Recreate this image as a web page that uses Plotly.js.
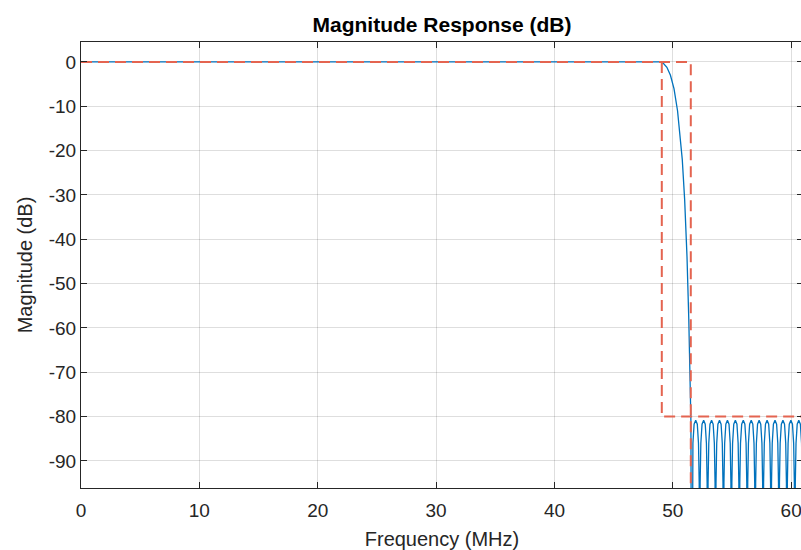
<!DOCTYPE html>
<html>
<head>
<meta charset="utf-8">
<script src="https://cdn.plot.ly/plotly-3.0.1.min.js"></script>
<style>
  html, body { margin: 0; padding: 0; overflow: hidden; background: #fff; }
  #chart { width: 840px; height: 550px; }
</style>
</head>
<body>
<div id="chart"></div>
<script>
// Passband + transition band (frequency in MHz, magnitude in dB)
var passFreq = [0, 10, 20, 30, 40, 48.9, 49.2, 49.5, 49.8, 50.1, 50.4, 50.6, 50.8, 51.0, 51.2, 51.35, 51.45, 51.53];
var passMag  = [0, 0, 0, 0, 0, 0, -0.3, -1.2, -3, -6, -11, -16, -22, -31, -44, -58, -70, -81];

// Stopband equiripple lobes (nulls drop far below the axis)
var stopFreq = [
  51.60, 51.64, 51.70, 51.80, 51.935, 52.07, 52.17, 52.23,
  52.27, 52.31, 52.37, 52.47, 52.605, 52.74, 52.84, 52.90,
  52.94, 52.98, 53.04, 53.14, 53.275, 53.41, 53.51, 53.57,
  53.61, 53.65, 53.71, 53.81, 53.945, 54.08, 54.18, 54.24,
  54.28, 54.32, 54.38, 54.48, 54.615, 54.75, 54.85, 54.91,
  54.95, 54.99, 55.05, 55.15, 55.285, 55.42, 55.52, 55.58,
  55.62, 55.66, 55.72, 55.82, 55.955, 56.09, 56.19, 56.25,
  56.29, 56.33, 56.39, 56.49, 56.625, 56.76, 56.86, 56.92,
  56.96, 57.00, 57.06, 57.16, 57.295, 57.43, 57.53, 57.59,
  57.63, 57.67, 57.73, 57.83, 57.965, 58.10, 58.20, 58.26,
  58.30, 58.34, 58.40, 58.50, 58.635, 58.77, 58.87, 58.93,
  58.97, 59.01, 59.07, 59.17, 59.305, 59.44, 59.54, 59.60,
  59.64, 59.68, 59.74, 59.84, 59.975, 60.11, 60.21, 60.27,
  60.31, 60.35, 60.41, 60.51, 60.645, 60.78, 60.88, 60.94,
  60.98, 61.02, 61.08, 61.18, 61.315, 61.45, 61.55, 61.61,
  61.65
];
var stopMag = [
  -150, -95, -86, -81.7, -80.8, -81.7, -86, -95,
  -150, -95, -86, -81.7, -80.8, -81.7, -86, -95,
  -150, -95, -86, -81.7, -80.8, -81.7, -86, -95,
  -150, -95, -86, -81.7, -80.8, -81.7, -86, -95,
  -150, -95, -86, -81.7, -80.8, -81.7, -86, -95,
  -150, -95, -86, -81.7, -80.8, -81.7, -86, -95,
  -150, -95, -86, -81.7, -80.8, -81.7, -86, -95,
  -150, -95, -86, -81.7, -80.8, -81.7, -86, -95,
  -150, -95, -86, -81.7, -80.8, -81.7, -86, -95,
  -150, -95, -86, -81.7, -80.8, -81.7, -86, -95,
  -150, -95, -86, -81.7, -80.8, -81.7, -86, -95,
  -150, -95, -86, -81.7, -80.8, -81.7, -86, -95,
  -150, -95, -86, -81.7, -80.8, -81.7, -86, -95,
  -150, -95, -86, -81.7, -80.8, -81.7, -86, -95,
  -150, -95, -86, -81.7, -80.8, -81.7, -86, -95,
  -150
];

// Specification mask
var maskPassFreq = [0, 51.52, 51.52];
var maskPassMag  = [0, 0, -150];
var maskStopFreq = [49.07, 49.07, 62];
var maskStopMag  = [0, -80, -80];

var xTicks = [0, 10, 20, 30, 40, 50, 60];
var yTicks = [0, -10, -20, -30, -40, -50, -60, -70, -80, -90];

var respFreq = passFreq.concat(stopFreq);
var respMag = passMag.concat(stopMag);

var font = 'Liberation Sans, Arial, Helvetica, sans-serif';
var axisColor = '#262626';
var gridColor = 'rgba(0,0,0,0.13)';

var traces = [
  { x: respFreq, y: respMag, type: 'scatter', mode: 'lines',
    line: { color: '#0072BD', width: 1.3 }, hoverinfo: 'skip', showlegend: false },
  { x: maskPassFreq, y: maskPassMag, type: 'scatter', mode: 'lines',
    line: { color: 'rgb(228,100,80)', width: 2, dash: '11px,6px' }, hoverinfo: 'skip', showlegend: false },
  { x: maskStopFreq, y: maskStopMag, type: 'scatter', mode: 'lines',
    line: { color: 'rgb(228,100,80)', width: 2, dash: '11px,6px' }, hoverinfo: 'skip', showlegend: false }
];

var layout = {
  width: 840, height: 550,
  margin: { l: 81, r: 37, t: 42, b: 62 },
  paper_bgcolor: '#fff', plot_bgcolor: '#fff',
  font: { family: font, color: axisColor, size: 19 },
  title: { text: '<b>Magnitude Response (dB)</b>', font: { family: font, size: 21, color: '#000' },
           x: 0.5, xref: 'paper', y: 1, yref: 'container', yanchor: 'top', pad: { t: 17 } },
  xaxis: {
    range: [0, 61], tickvals: xTicks, ticktext: xTicks.map(String),
    showgrid: true, gridcolor: gridColor, gridwidth: 1, zeroline: false,
    showline: true, linecolor: axisColor, linewidth: 1, mirror: 'ticks',
    ticks: 'inside', ticklen: 6, tickcolor: axisColor, ticklabelstandoff: 5,
    tickfont: { size: 19, color: axisColor },
    title: { text: 'Frequency (MHz)', font: { size: 20, color: axisColor }, standoff: 12 }
  },
  yaxis: {
    range: [-96.1, 4.5], tickvals: yTicks, ticktext: yTicks.map(String),
    showgrid: true, gridcolor: gridColor, gridwidth: 1, zeroline: false,
    showline: true, linecolor: axisColor, linewidth: 1, mirror: 'ticks',
    ticks: 'inside', ticklen: 6, tickcolor: axisColor,
    tickfont: { size: 19, color: axisColor },
    title: { text: 'Magnitude (dB)', font: { size: 20, color: axisColor }, standoff: 10 }
  }
};

Plotly.newPlot('chart', traces, layout, { displayModeBar: false, staticPlot: true });
</script>
</body>
</html>
